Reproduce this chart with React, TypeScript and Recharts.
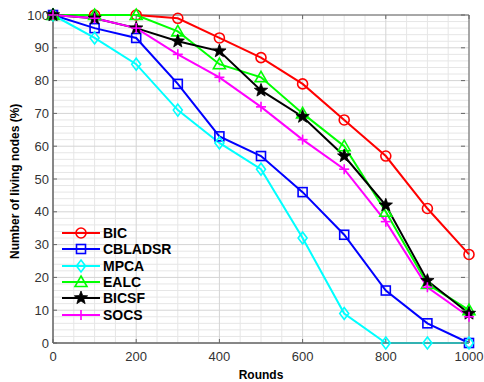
import React from 'react';
import { LineChart, Line, XAxis, YAxis, CartesianGrid, ReferenceArea } from 'recharts';

// rounds on the x axis
const rounds = [0, 100, 200, 300, 400, 500, 600, 700, 800, 900, 1000];

// living nodes (%) per protocol
const bic = [100, 100, 100, 99, 93, 87, 79, 68, 57, 41, 27];
const cbladsr = [100, 96, 93, 79, 63, 57, 46, 33, 16, 6, 0];
const mpca = [100, 93, 85, 71, 61, 53, 32, 9, 0, 0, 0];
const ealc = [100, 100, 100, 95, 85, 81, 70, 60, 40, 18, 10];
const bicsf = [100, 99, 96, 92, 89, 77, 69, 57, 42, 19, 9];
const socs = [100, 99, 96, 88, 81, 72, 62, 53, 37, 17, 8];

const xTicks = [0, 200, 400, 600, 800, 1000];
const yTicks = [0, 10, 20, 30, 40, 50, 60, 70, 80, 90, 100];
const xMinor = [50, 100, 150, 250, 300, 350, 450, 500, 550, 650, 700, 750, 850, 900, 950];
const yMinor = [2, 4, 6, 8, 12, 14, 16, 18, 22, 24, 26, 28, 32, 34, 36, 38, 42, 44, 46, 48,
  52, 54, 56, 58, 62, 64, 66, 68, 72, 74, 76, 78, 82, 84, 86, 88, 92, 94, 96, 98];

const data = rounds.map((r, i) => ({
  round: r,
  BIC: bic[i],
  CBLADSR: cbladsr[i],
  MPCA: mpca[i],
  EALC: ealc[i],
  BICSF: bicsf[i],
  SOCS: socs[i],
}));

type Shape = 'circle' | 'square' | 'diamond' | 'triangle' | 'star' | 'plus';

const series: { key: string; color: string; shape: Shape }[] = [
  { key: 'BIC', color: '#ff0000', shape: 'circle' },
  { key: 'CBLADSR', color: '#0000ff', shape: 'square' },
  { key: 'MPCA', color: '#00ffff', shape: 'diamond' },
  { key: 'EALC', color: '#00ff00', shape: 'triangle' },
  { key: 'BICSF', color: '#000000', shape: 'star' },
  { key: 'SOCS', color: '#ff00ff', shape: 'plus' },
];

const FONT = 'Liberation Sans, Arial, sans-serif';
const AXIS = '#666666';
const TEXT = '#333333';

function starPath(cx: number, cy: number, R: number) {
  const r = R * 0.42;
  let d = '';
  for (let i = 0; i < 10; i++) {
    const a = -Math.PI / 2 + (i * Math.PI) / 5;
    const rr = i % 2 === 0 ? R : r;
    d += (i === 0 ? 'M' : 'L') + (cx + rr * Math.cos(a)).toFixed(2) + ',' + (cy + rr * Math.sin(a)).toFixed(2);
  }
  return d + 'Z';
}

function Marker({ cx, cy, shape, color }: { cx: number; cy: number; shape: Shape; color: string }) {
  const sw = 1.6;
  switch (shape) {
    case 'circle':
      return <circle cx={cx} cy={cy} r={5} fill="none" stroke={color} strokeWidth={sw} />;
    case 'square':
      return <rect x={cx - 4.5} y={cy - 4.5} width={9} height={9} fill="none" stroke={color} strokeWidth={sw} />;
    case 'diamond':
      return <path d={`M${cx},${cy - 6}L${cx + 4.5},${cy}L${cx},${cy + 6}L${cx - 4.5},${cy}Z`} fill="none" stroke={color} strokeWidth={sw} />;
    case 'triangle':
      return <path d={`M${cx},${cy - 6}L${cx + 6},${cy + 4.5}L${cx - 6},${cy + 4.5}Z`} fill="none" stroke={color} strokeWidth={sw} />;
    case 'star':
      return <path d={starPath(cx, cy, 7)} fill={color} stroke={color} strokeWidth={0.8} />;
    case 'plus':
      return (
        <g stroke={color} strokeWidth={sw}>
          <line x1={cx - 5} y1={cy} x2={cx + 5} y2={cy} />
          <line x1={cx} y1={cy - 5} x2={cx} y2={cy + 5} />
        </g>
      );
  }
  return null;
}

const YTick = (props: any) => {
  const { x, y, payload } = props;
  return (
    <g>
      <line x1={x + 4} y1={y} x2={x + 8} y2={y} stroke={AXIS} strokeWidth={1} />
      <line x1={x + 416} y1={y} x2={x + 412} y2={y} stroke={AXIS} strokeWidth={1} />
      <text x={x} y={y} dy="0.35em" textAnchor="end" fontSize={13} fill={TEXT} fontFamily={FONT}>
        {payload.value}
      </text>
    </g>
  );
};

const XTick = (props: any) => {
  const { x, y, payload } = props;
  return (
    <g>
      <line x1={x} y1={y - 9} x2={x} y2={y - 13} stroke={AXIS} strokeWidth={1} />
      <line x1={x} y1={y - 337} x2={x} y2={y - 333} stroke={AXIS} strokeWidth={1} />
      <text x={x} y={y} dy="0.71em" textAnchor="middle" fontSize={13} fill={TEXT} fontFamily={FONT}>
        {payload.value}
      </text>
    </g>
  );
};

const LegendBox = () => (
  <div style={{ position: 'absolute', left: 61, top: 225, fontFamily: FONT }}>
    {series.map((s) => (
      <div key={s.key} style={{ display: 'flex', alignItems: 'center', height: 16.3 }}>
        <svg width={42} height={16} style={{ display: 'block' }}>
          <line x1={1} y1={8} x2={39} y2={8} stroke={s.color} strokeWidth={2} />
          <Marker cx={20} cy={8} shape={s.shape} color={s.color} />
        </svg>
        <span style={{ fontWeight: 'bold', fontSize: 14, color: '#000', lineHeight: '16px' }}>{s.key}</span>
      </div>
    ))}
  </div>
);

export default function App() {
  return (
    <div style={{ position: 'absolute', left: 0, top: 0, width: 484, height: 382, background: '#fff' }}>
      <LineChart width={484} height={382} data={data} margin={{ top: 15, right: 15, bottom: 9, left: 12 }}>
        <CartesianGrid horizontalValues={yMinor} verticalValues={xMinor} stroke="#e6e6e6" />
        <CartesianGrid horizontalValues={yTicks} verticalValues={xTicks} stroke="#d4d4d4" />
        <XAxis
          dataKey="round"
          type="number"
          domain={[0, 1000]}
          ticks={xTicks}
          interval={0}
          height={30}
          tickSize={0}
          tickMargin={9}
          tick={<XTick />}
          stroke={AXIS}
          label={{ value: 'Rounds', position: 'insideBottom', offset: -6, fontWeight: 'bold', fontSize: 12, fill: '#000', fontFamily: FONT }}
        />
        <YAxis
          type="number"
          domain={[0, 100]}
          ticks={yTicks}
          interval={0}
          width={41}
          tickSize={0}
          tickMargin={4}
          tick={<YTick />}
          stroke={AXIS}
          label={{ value: 'Number of living nodes (%)', angle: -90, position: 'insideLeft', offset: 3, dy: 80, fontWeight: 'bold', fontSize: 12, fill: '#000', fontFamily: FONT }}
        />
        <ReferenceArea x1={0} x2={1000} y1={0} y2={100} fill="none" stroke={AXIS} strokeWidth={1} />
        {series.map((s) => (
          <Line
            key={s.key}
            dataKey={s.key}
            stroke={s.color}
            strokeWidth={2}
            isAnimationActive={false}
            dot={(p: any) => <Marker key={`${s.key}-${p.index}`} cx={p.cx} cy={p.cy} shape={s.shape} color={s.color} />}
            activeDot={false}
          />
        ))}
      </LineChart>
      <LegendBox />
    </div>
  );
}
